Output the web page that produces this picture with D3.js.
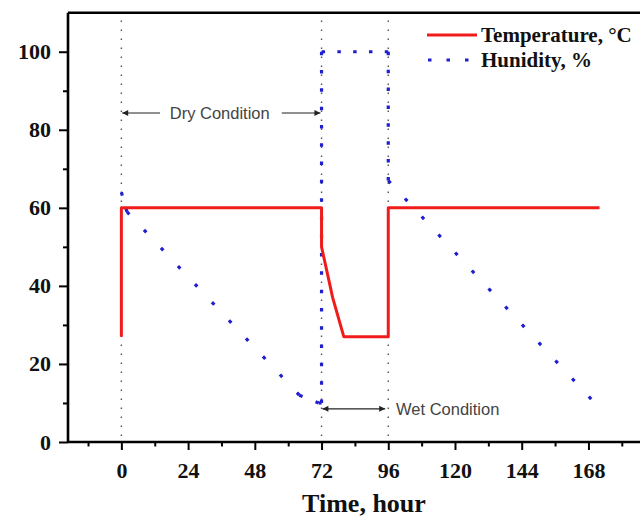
<!DOCTYPE html>
<html>
<head>
<meta charset="utf-8">
<script src="https://cdn.jsdelivr.net/npm/d3@7"></script>
<style>
  html, body { margin: 0; padding: 0; background: #fff; }
  svg { display: block; }
</style>
</head>
<body>
<svg id="chart" width="640" height="520"></svg>
<script>
// Test profile: temperature and humidity over one week
const tempHours  = [0, 0, 72, 72, 76, 80, 96, 96, 172];
const tempValues = [27, 60, 60, 50, 37, 27, 27, 60, 60];

const humHours  = [0, 2, 64, 71, 72, 72, 96, 96, 169];
const humValues = [64, 59, 12, 10, 10, 100, 100, 67, 11];

const xTicks = [0, 24, 48, 72, 96, 120, 144, 168];
const xMinorTicks = [-12, 12, 36, 60, 84, 108, 132, 156, 180];
const yTicks = [0, 20, 40, 60, 80, 100];
const yMinorTicks = [10, 30, 50, 70, 90];

// phase boundaries (hours)
const phaseHours = [0, 72, 96];

const seriesNames = ["Temperature, °C", "Hunidity, %"];
const xTitle = "Time, hour";
const dryLabel = "Dry Condition";
const wetLabel = "Wet Condition";

const svg = d3.select("#chart");
const plotLeft = 68, plotRight = 649.6, plotTop = 12.7, plotBottom = 442;

const x = d3.scaleLinear().domain([-19.2, 190]).range([plotLeft, plotRight]);
const y = d3.scaleLinear().domain([0, 110]).range([plotBottom, plotTop]);

const serif = "'Liberation Serif', 'Times New Roman', serif";
const sans = "'Liberation Sans', Arial, sans-serif";
const red = "#f01c1c", blue = "#1f1fd0";

// arrowhead marker
svg.append("defs").append("marker")
  .attr("id", "arrow")
  .attr("viewBox", "0 0 10 10")
  .attr("refX", 10).attr("refY", 5)
  .attr("markerWidth", 9).attr("markerHeight", 6)
  .attr("markerUnits", "userSpaceOnUse")
  .attr("orient", "auto-start-reverse")
  .append("path")
  .attr("d", "M0,0 L10,5 L0,10 Z")
  .attr("fill", "#222");

// phase boundary guides
svg.append("g").selectAll("line")
  .data(phaseHours)
  .join("line")
  .attr("x1", d => x(d)).attr("x2", d => x(d))
  .attr("y1", y(108)).attr("y2", y(0))
  .attr("stroke", "#555")
  .attr("stroke-width", 1.4)
  .attr("stroke-dasharray", "1.4,7.6");

// series
const tempData = tempHours.map((h, i) => [h, tempValues[i]]);
const humData = humHours.map((h, i) => [h, humValues[i]]);
const line = d3.line().x(d => x(d[0])).y(d => y(d[1]));

// humidity: dotted, drawn segment by segment so each segment starts and
// ends on a dot (ramps use a looser dot pitch than the plateaus)
const dotLen = 3.5;
const humSegments = d3.pairs(humData);
svg.append("g").selectAll("path")
  .data(humSegments)
  .join("path")
  .attr("d", line)
  .attr("fill", "none")
  .attr("stroke", blue)
  .attr("stroke-width", 3.2)
  .attr("stroke-dasharray", function(s) {
    const target = (s[0][0] !== s[1][0] && s[0][1] !== s[1][1]) ? 24.5 : 18;
    const L = this.getTotalLength() - dotLen;
    if (L < target * 0.6) return `${dotLen},${target}`;
    const period = L / Math.max(1, Math.round(L / target));
    return `${dotLen},${period - dotLen}`;
  });

svg.append("path")
  .datum(tempData)
  .attr("d", line)
  .attr("fill", "none")
  .attr("stroke", red)
  .attr("stroke-width", 3)
  .attr("stroke-linejoin", "round");

// axes
const xAxis = svg.append("g").attr("transform", `translate(0,${plotBottom})`)
  .call(d3.axisBottom(x).tickValues(xTicks).tickSize(8).tickPadding(12).tickFormat(d3.format("d")));
svg.append("g").attr("transform", `translate(0,${plotBottom})`)
  .call(d3.axisBottom(x).tickValues(xMinorTicks).tickSize(4.5).tickFormat(""))
  .call(g => g.select(".domain").remove());

const yAxis = svg.append("g").attr("transform", `translate(${plotLeft},0)`)
  .call(d3.axisLeft(y).tickValues(yTicks).tickSize(9).tickPadding(8).tickFormat(d3.format("d")));
svg.append("g").attr("transform", `translate(${plotLeft},0)`)
  .call(d3.axisLeft(y).tickValues(yMinorTicks).tickSize(5).tickFormat(""))
  .call(g => g.select(".domain").remove());

svg.selectAll(".tick line").attr("stroke", "#000").attr("stroke-width", 2);
svg.selectAll(".domain").attr("stroke", "#000").attr("stroke-width", 2.6);
xAxis.select(".domain").attr("d", `M${plotLeft},0H640`);
yAxis.select(".domain").attr("d", `M0,${plotBottom}V${plotTop}`);

svg.selectAll(".tick text")
  .attr("font-family", serif)
  .attr("font-weight", "bold")
  .attr("font-size", 22)
  .attr("fill", "#111");

// top frame
svg.append("line")
  .attr("x1", plotLeft).attr("x2", 640)
  .attr("y1", plotTop).attr("y2", plotTop)
  .attr("stroke", "#000").attr("stroke-width", 2.6);

// axis title
svg.append("text")
  .attr("x", 364).attr("y", 512)
  .attr("text-anchor", "middle")
  .attr("font-family", serif).attr("font-weight", "bold").attr("font-size", 26)
  .attr("fill", "#111")
  .text(xTitle);

// legend
const legend = svg.append("g");
legend.append("line")
  .attr("x1", 427).attr("x2", 477).attr("y1", 35).attr("y2", 35)
  .attr("stroke", red).attr("stroke-width", 3);
legend.append("line")
  .attr("x1", 428).attr("x2", 477).attr("y1", 60).attr("y2", 60)
  .attr("stroke", blue).attr("stroke-width", 3.2)
  .attr("stroke-dasharray", "3.5,15");
legend.selectAll("text")
  .data(seriesNames)
  .join("text")
  .attr("x", 481).attr("y", (d, i) => 42 + i * 25)
  .attr("font-family", serif).attr("font-weight", "bold").attr("font-size", 21)
  .attr("fill", "#111")
  .text(d => d);

// dry / wet condition annotations
const ann = svg.append("g").attr("stroke", "#222").attr("stroke-width", 1.1);
const dryY = y(84.3), wetY = y(8.5);
ann.append("line")
  .attr("x1", x(13.9)).attr("x2", x(0.3)).attr("y1", dryY).attr("y2", dryY)
  .attr("marker-end", "url(#arrow)");
ann.append("line")
  .attr("x1", x(57.7)).attr("x2", x(71.6)).attr("y1", dryY).attr("y2", dryY)
  .attr("marker-end", "url(#arrow)");
ann.append("line")
  .attr("x1", x(72.3)).attr("x2", x(94.9)).attr("y1", wetY).attr("y2", wetY)
  .attr("marker-start", "url(#arrow)")
  .attr("marker-end", "url(#arrow)");

svg.append("text")
  .attr("x", x(17.4)).attr("y", dryY + 6)
  .attr("font-family", sans).attr("font-size", 16.5).attr("fill", "#444")
  .text(dryLabel);
svg.append("text")
  .attr("x", x(98.8)).attr("y", wetY + 6)
  .attr("font-family", sans).attr("font-size", 16.5).attr("fill", "#444")
  .text(wetLabel);
</script>
</body>
</html>
